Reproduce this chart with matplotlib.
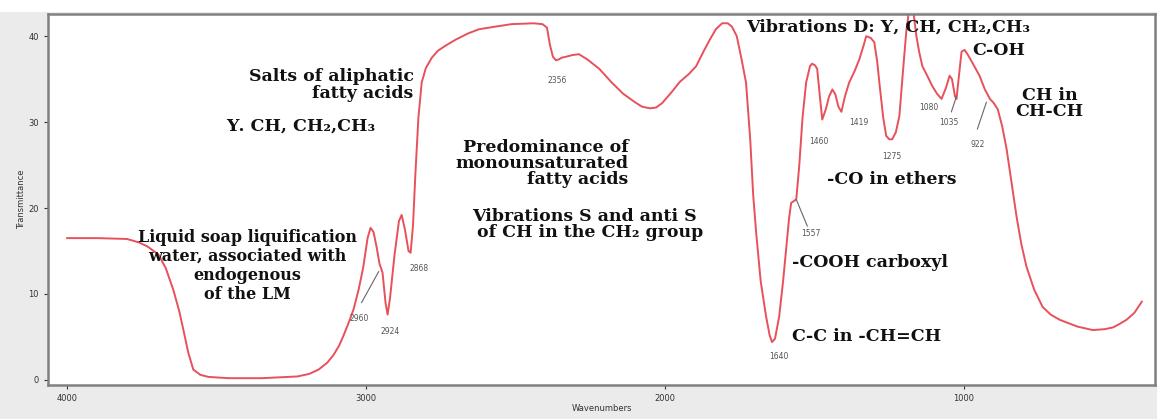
import matplotlib.pyplot as plt
from matplotlib.patches import Rectangle

# FTIR spectrum (wavenumber cm-1, transmittance)
wavenumber = [4000, 3900, 3800, 3760, 3730, 3695, 3670, 3645, 3625, 3611, 3595, 3578,
              3555, 3528, 3460, 3350, 3230, 3190, 3159, 3130, 3109, 3090, 3075, 3060,
              3042, 3025, 3010, 2995, 2985, 2975, 2965, 2955, 2945, 2935, 2928, 2920,
              2905, 2890, 2881, 2870, 2858, 2851, 2843, 2835, 2825, 2814, 2800, 2780,
              2760, 2734, 2700, 2660, 2623, 2570, 2513, 2440, 2410, 2395, 2385, 2375,
              2365, 2355, 2345, 2332, 2310, 2288, 2260, 2220, 2178, 2140, 2100, 2077,
              2050, 2030, 2010, 1980, 1950, 1920, 1896, 1870, 1850, 1830, 1809, 1790,
              1776, 1760, 1745, 1729, 1715, 1705, 1695, 1680, 1662, 1650, 1642, 1632,
              1618, 1605, 1595, 1585, 1578, 1561, 1551, 1540, 1528, 1515, 1508, 1498,
              1491, 1482, 1474, 1462, 1451, 1440, 1430, 1420, 1410, 1398, 1384, 1365,
              1350, 1335, 1327, 1312, 1300, 1290, 1283, 1270, 1260, 1250, 1240, 1228,
              1216, 1205, 1193, 1180, 1168, 1159, 1150, 1139, 1120, 1106, 1090, 1075,
              1060, 1048, 1040, 1030, 1025, 1015, 1008, 998, 988, 970, 948, 930, 913,
              900, 887, 872, 857, 840, 824, 808, 791, 765, 737, 710, 680, 650, 620,
              569, 530, 502, 480, 456, 430, 405]
transmittance = [16.5, 16.5, 16.4, 16.0, 15.5, 14.6, 13.0, 10.5, 8.0, 5.8, 3.2, 1.2,
                 0.6, 0.35, 0.2, 0.2, 0.4, 0.7, 1.2, 2.0, 2.9, 4.0, 5.2, 6.5,
                 8.2, 10.5, 13.0, 16.5, 17.7, 17.2, 15.5, 13.5, 12.5, 9.0, 7.6, 9.5,
                 14.5, 18.5, 19.2, 17.5, 15.0, 14.8, 18.0, 24.0, 30.5, 34.6, 36.3, 37.5,
                 38.3, 38.9, 39.6, 40.3, 40.8, 41.1, 41.4, 41.5, 41.4, 41.0, 39.0, 37.6,
                 37.2, 37.3, 37.5, 37.6, 37.8, 37.9, 37.3, 36.2, 34.6, 33.3, 32.3, 31.8,
                 31.6, 31.7, 32.2, 33.4, 34.7, 35.6, 36.5, 38.3, 39.6, 40.8, 41.5, 41.5,
                 41.1, 40.0, 37.5, 34.6, 28.0, 21.5, 17.1, 11.5, 7.4, 5.2, 4.4, 4.8,
                 7.4, 11.5, 15.2, 18.8, 20.6, 21.0, 24.9, 30.5, 34.6, 36.5, 36.8, 36.6,
                 36.2, 33.0, 30.3, 31.5, 33.0, 33.8, 33.2, 31.8, 31.2, 33.0, 34.6, 36.0,
                 37.3, 39.0, 40.0, 39.8, 39.3, 37.0, 34.6, 30.5, 28.4, 28.0, 28.0, 28.8,
                 30.7, 35.5, 40.5, 44.0, 42.5, 40.0, 38.2, 36.5, 35.2, 34.2, 33.3, 32.7,
                 34.0, 35.4, 35.0, 33.0, 32.7, 36.0, 38.2, 38.4, 37.9, 36.8, 35.4, 33.8, 32.7,
                 32.2, 31.5, 29.5, 26.8, 22.8, 19.0, 15.8, 13.2, 10.5, 8.5, 7.6, 7.0, 6.6, 6.2,
                 5.8, 5.9, 6.1, 6.5, 7.0, 7.8, 9.1]

# peak numbers (label text, x, y)
peak_labels = ["2960", "2924", "2868", "2356", "1640", "1557", "1460", "1419",
               "1275", "1080", "1035", "922"]
peak_x = [3022, 2921, 2824, 2362, 1618, 1511, 1484, 1350, 1240, 1116, 1049, 955]
peak_y = [7.2, 5.6, 13.0, 34.8, 2.7, 17.0, 27.7, 30.0, 26.0, 31.7, 29.9, 27.4]

# leader lines (x0, y0, x1, y1)
leaders = [(3015, 9.0, 2958, 12.6), (1561, 21.0, 1524, 17.9),
           (1042, 31.2, 1025, 33.0), (955, 29.2, 925, 32.3)]

fig = plt.figure(figsize=(11.57, 4.19), dpi=100, facecolor='#ebebeb')
fig.patches.append(Rectangle((0, 0.972), 1, 0.03, transform=fig.transFigure,
                             facecolor='white', edgecolor='none', zorder=0))
ax = fig.add_axes([0.0415, 0.081, 0.957, 0.886])

ax.plot(wavenumber, transmittance, color='#e8505a', lw=1.4)
ax.set_xlim(4064, 360)
ax.set_ylim(-0.6, 42.6)
ax.set_xticks([4000, 3000, 2000, 1000])
ax.set_yticks([0, 10, 20, 30, 40])
ax.tick_params(labelsize=6, colors='#333333', length=3)
ax.set_xlabel('Wavenumbers', fontsize=6, color='#333333', labelpad=1)
ax.set_ylabel('Transmittance', fontsize=6, color='#333333', labelpad=2)
for s in ax.spines.values():
    s.set_color('#808080')
    s.set_linewidth(1.8)

serif = dict(family='DejaVu Serif', fontweight='bold', color='#111111')
fs = 12.5

ax.text(2841, 34.3, 'Salts of aliphatic\nfatty acids', ha='right', va='center',
        multialignment='right', fontsize=fs, linespacing=0.95, **serif)
ax.text(3467, 29.5, 'Υ. CH, CH₂,CH₃', ha='left', va='center', fontsize=fs, **serif)
ax.text(3397, 13.3, 'Liquid soap liquification\nwater, associated with\nendogenous\nof the LM',
        ha='center', va='center', fontsize=11.5, linespacing=1.15, **serif)
ax.text(2412, 25.2, 'Predominance of\nmonounsaturated\nfatty acids', ha='center',
        va='center', multialignment='right', fontsize=fs, linespacing=0.9, **serif)
ax.text(2271, 18.1, 'Vibrations S and anti S\n  of CH in the CH₂ group', ha='center',
        va='center', fontsize=fs, linespacing=0.95, **serif)
ax.text(1729, 41.0, 'Vibrations D: Υ, CH, CH₂,CH₃', ha='left', va='center',
        fontsize=fs, **serif)
ax.text(972, 38.3, 'C-OH', ha='left', va='center', fontsize=fs, **serif)
ax.text(714, 32.2, 'CH in\nCH-CH', ha='center', va='center', fontsize=fs,
        linespacing=0.95, **serif)
ax.text(1457, 23.3, '-CO in ethers', ha='left', va='center', fontsize=fs, **serif)
ax.text(1575, 13.7, '-COOH carboxyl', ha='left', va='center', fontsize=fs, **serif)
ax.text(1575, 5.0, 'C-C in -CH=CH', ha='left', va='center', fontsize=fs, **serif)

for lab, x, y in zip(peak_labels, peak_x, peak_y):
    ax.text(x, y, lab, ha='center', va='center', fontsize=5.5, color='#555555')
for x0, y0, x1, y1 in leaders:
    ax.plot([x0, x1], [y0, y1], color='#666666', lw=0.8)

fig.savefig('out.png', dpi=100, facecolor=fig.get_facecolor())
